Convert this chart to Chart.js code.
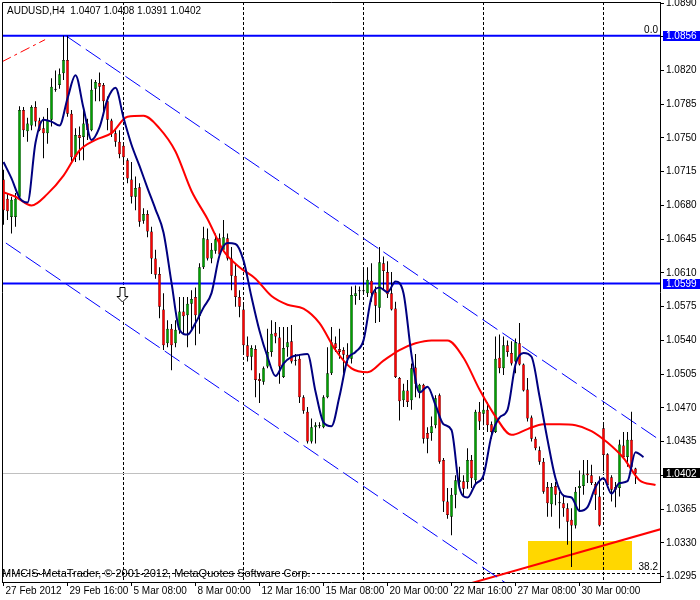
<!DOCTYPE html>
<html>
<head>
<meta charset="utf-8">
<title>AUDUSD,H4</title>
<script src="https://cdn.jsdelivr.net/npm/chart.js@4.4.1/dist/chart.umd.min.js"></script>
<style>
html,body{margin:0;padding:0;background:#ffffff;overflow:hidden;}
#box{position:relative;width:700px;height:600px;}
canvas{display:block;}
</style>
</head>
<body>
<div id="box"><canvas id="chart" width="700" height="600"></canvas></div>
<script>
// ---------------- data ----------------
const chartTitle = 'AUDUSD,H4  1.0407 1.0408 1.0391 1.0402';
const footerText = 'MMCIS-MetaTrader, \u00A9 2001-2012, MetaQuotes Software Corp.';

// H4 candles, bar 0 = 27 Feb 2012 00:00
const opens = [
1.0707,1.0687,1.0668,1.0668,1.0689,1.0779,1.0757,1.0763,1.0782,1.0768,
1.0760,1.0755,1.0769,1.0800,1.0805,1.0817,1.0831,1.0775,1.0730,1.0753,
1.0751,1.0765,1.0758,1.0801,1.0807,1.0805,1.0788,1.0768,1.0755,1.0746,
1.0742,1.0727,1.0707,1.0689,1.0699,1.0664,1.0671,1.0653,1.0625,1.0609,
1.0572,1.0537,1.0552,1.0537,1.0551,1.0570,1.0566,1.0578,1.0585,1.0565,
1.0616,1.0645,1.0625,1.0633,1.0646,1.0634,1.0646,1.0625,1.0607,1.0585,
1.0572,1.0535,1.0523,1.0531,1.0500,1.0497,1.0513,1.0528,1.0548,1.0543,
1.0502,1.0533,1.0539,1.0520,1.0521,1.0481,1.0466,1.0435,1.0450,1.0451,
1.0450,1.0481,1.0506,1.0537,1.0531,1.0530,1.0525,1.0521,1.0586,1.0591,
1.0591,1.0589,1.0602,1.0590,1.0574,1.0620,1.0611,1.0589,1.0573,1.0501,
1.0478,1.0488,1.0478,1.0512,1.0486,1.0494,1.0444,1.0444,1.0452,1.0483,
1.0416,1.0373,1.0357,1.0380,1.0393,1.0394,1.0393,1.0416,1.0395,1.0466,
1.0464,1.0468,1.0453,1.0445,1.0522,1.0511,1.0535,1.0527,1.0518,1.0537,
1.0515,1.0489,1.0460,1.0438,1.0426,1.0414,1.0388,1.0370,1.0389,1.0372,
1.0371,1.0366,1.0354,1.0348,1.0387,1.0389,1.0402,1.0400,1.0391,1.0378,
1.0449,1.0422,1.0398,1.0388,1.0387,1.0431,1.0419,1.0437,1.0407];
const highs = [
1.0717,1.0693,1.0689,1.0693,1.0783,1.0782,1.0771,1.0784,1.0788,1.0771,
1.0772,1.0781,1.0812,1.0820,1.0822,1.0856,1.0856,1.0779,1.0760,1.0762,
1.0782,1.0770,1.0811,1.0810,1.0818,1.0807,1.0793,1.0770,1.0760,1.0758,
1.0744,1.0729,1.0725,1.0710,1.0703,1.0677,1.0675,1.0658,1.0634,1.0616,
1.0589,1.0561,1.0557,1.0561,1.0585,1.0585,1.0585,1.0592,1.0595,1.0620,
1.0658,1.0656,1.0641,1.0651,1.0651,1.0665,1.0651,1.0637,1.0620,1.0592,
1.0578,1.0544,1.0535,1.0535,1.0506,1.0513,1.0552,1.0561,1.0559,1.0554,
1.0554,1.0554,1.0556,1.0526,1.0526,1.0483,1.0471,1.0459,1.0455,1.0455,
1.0483,1.0533,1.0554,1.0544,1.0552,1.0533,1.0537,1.0596,1.0597,1.0596,
1.0616,1.0616,1.0620,1.0596,1.0637,1.0627,1.0622,1.0611,1.0580,1.0502,
1.0495,1.0499,1.0516,1.0526,1.0495,1.0495,1.0450,1.0461,1.0483,1.0485,
1.0418,1.0387,1.0387,1.0400,1.0409,1.0400,1.0428,1.0421,1.0468,1.0476,
1.0483,1.0476,1.0456,1.0544,1.0546,1.0544,1.0540,1.0539,1.0542,1.0558,
1.0516,1.0501,1.0462,1.0440,1.0430,1.0418,1.0393,1.0392,1.0393,1.0383,
1.0380,1.0371,1.0366,1.0388,1.0405,1.0416,1.0416,1.0411,1.0393,1.0399,
1.0454,1.0423,1.0400,1.0393,1.0437,1.0445,1.0445,1.0466,1.0408];
const lows = [
1.0660,1.0665,1.0651,1.0658,1.0686,1.0751,1.0746,1.0758,1.0762,1.0757,
1.0729,1.0744,1.0762,1.0798,1.0801,1.0810,1.0772,1.0725,1.0725,1.0727,
1.0727,1.0748,1.0757,1.0788,1.0788,1.0774,1.0758,1.0751,1.0741,1.0729,
1.0722,1.0703,1.0682,1.0675,1.0658,1.0661,1.0647,1.0609,1.0604,1.0563,
1.0530,1.0533,1.0509,1.0533,1.0547,1.0547,1.0533,1.0551,1.0535,1.0547,
1.0614,1.0623,1.0620,1.0630,1.0627,1.0632,1.0623,1.0592,1.0575,1.0564,
1.0526,1.0518,1.0509,1.0481,1.0475,1.0494,1.0511,1.0523,1.0537,1.0495,
1.0501,1.0523,1.0516,1.0514,1.0475,1.0464,1.0433,1.0433,1.0433,1.0449,
1.0449,1.0480,1.0504,1.0528,1.0521,1.0506,1.0516,1.0516,1.0577,1.0582,
1.0589,1.0585,1.0580,1.0558,1.0559,1.0592,1.0584,1.0571,1.0501,1.0457,
1.0471,1.0471,1.0468,1.0481,1.0480,1.0433,1.0423,1.0436,1.0449,1.0412,
1.0362,1.0355,1.0338,1.0366,1.0385,1.0378,1.0386,1.0387,1.0392,1.0447,
1.0452,1.0445,1.0438,1.0444,1.0506,1.0504,1.0523,1.0514,1.0506,1.0514,
1.0487,1.0456,1.0435,1.0426,1.0411,1.0381,1.0357,1.0357,1.0369,1.0345,
1.0357,1.0328,1.0305,1.0345,1.0362,1.0380,1.0392,1.0390,1.0364,1.0347,
1.0404,1.0387,1.0373,1.0367,1.0378,1.0418,1.0409,1.0405,1.0391];
const closes = [
1.0675,1.0674,1.0686,1.0687,1.0779,1.0758,1.0765,1.0782,1.0767,1.0758,
1.0755,1.0768,1.0803,1.0801,1.0816,1.0831,1.0775,1.0730,1.0753,1.0750,
1.0765,1.0758,1.0800,1.0808,1.0803,1.0788,1.0769,1.0755,1.0746,1.0733,
1.0730,1.0708,1.0689,1.0698,1.0663,1.0671,1.0653,1.0625,1.0608,1.0575,
1.0535,1.0552,1.0535,1.0551,1.0570,1.0565,1.0578,1.0583,1.0566,1.0616,
1.0646,1.0625,1.0634,1.0645,1.0629,1.0647,1.0625,1.0607,1.0585,1.0575,
1.0535,1.0523,1.0532,1.0499,1.0498,1.0511,1.0528,1.0547,1.0544,1.0513,
1.0532,1.0538,1.0518,1.0519,1.0481,1.0467,1.0435,1.0450,1.0452,1.0451,
1.0481,1.0506,1.0538,1.0532,1.0528,1.0525,1.0521,1.0587,1.0589,1.0591,
1.0591,1.0603,1.0589,1.0576,1.0621,1.0612,1.0588,1.0572,1.0502,1.0477,
1.0488,1.0476,1.0511,1.0495,1.0494,1.0438,1.0438,1.0451,1.0480,1.0414,
1.0373,1.0359,1.0380,1.0395,1.0395,1.0386,1.0416,1.0397,1.0466,1.0456,
1.0468,1.0452,1.0445,1.0521,1.0511,1.0535,1.0528,1.0516,1.0538,1.0515,
1.0488,1.0459,1.0438,1.0428,1.0414,1.0383,1.0371,1.0388,1.0380,1.0371,
1.0366,1.0352,1.0348,1.0383,1.0389,1.0401,1.0400,1.0392,1.0380,1.0348,
1.0421,1.0390,1.0385,1.0385,1.0432,1.0419,1.0437,1.0409,1.0402];

// shifted moving averages
const maFastBars = Array.from({length: 81}, (_, k) => k * 2);          // bars 0,2,...,160
const maFast = [
1.0725,1.0708,1.0688,1.0683,1.0745,1.0769,1.0767,1.0763,1.0791,1.0815,
1.0781,1.0748,1.0761,1.0790,1.0802,1.0771,1.0743,1.0721,1.0698,1.0676,
1.0652,1.0600,1.0551,1.0546,1.0558,1.0574,1.0589,1.0628,1.0641,1.0640,
1.0623,1.0585,1.0550,1.0523,1.0503,1.0516,1.0523,1.0525,1.0526,1.0487,
1.0455,1.0451,1.0482,1.0520,1.0528,1.0540,1.0585,1.0595,1.0590,1.0601,
1.0589,1.0525,1.0486,1.0492,1.0473,1.0453,1.0447,1.0387,1.0377,1.0391,
1.0400,1.0441,1.0460,1.0468,1.0515,1.0527,1.0523,1.0482,1.0437,1.0397,
1.0379,1.0377,1.0363,1.0367,1.0388,1.0397,1.0381,1.0392,1.0394,1.0424,
1.0419];
const maSlowBars = Array.from({length: 42}, (_, k) => -1 + k * 4);     // bars -1,3,...,163
const maSlow = [
1.0695,1.0689,1.0680,1.0692,1.0711,1.0737,1.0748,1.0755,1.0772,1.0773,
1.0760,1.0736,1.0695,1.0666,1.0633,1.0616,1.0604,1.0586,1.0577,1.0573,
1.0558,1.0530,1.0511,1.0507,1.0519,1.0530,1.0537,1.0540,1.0540,1.0522,
1.0489,1.0461,1.0442,1.0448,1.0453,1.0453,1.0452,1.0446,1.0434,1.0418,
1.0395,1.0390];

// axes
const xTickBars = [0, 16, 32, 48, 64, 80, 96, 112, 128, 144];
const xTickLabels = ['27 Feb 2012','29 Feb 16:00','5 Mar 08:00','8 Mar 00:00','12 Mar 16:00',
                     '15 Mar 08:00','20 Mar 00:00','22 Mar 16:00','27 Mar 08:00','30 Mar 00:00'];
const yTickValues = [1.0295,1.0330,1.0365,1.0400,1.0435,1.0470,1.0505,1.0540,1.0575,
                     1.0610,1.0645,1.0680,1.0715,1.0750,1.0785,1.0820,1.0855,1.0890];

// drawn objects
const hLevels = [1.0856, 1.0599];
const lastPrice = 1.0402;
const weekStartBars = [30, 60, 90, 120, 150];
const channelUpperBars = [15.6, 165];   const channelUpperPrices = [1.0856, 1.0434];
const channelLowerBars = [0.6, 165];    const channelLowerPrices = [1.0641, 1.0177];
const supportBars = [110, 165];         const supportPrices = [1.0280, 1.0345];
const oldTrendBars = [-0.4, 10.4];      const oldTrendPrices = [1.0829, 1.0852];
const fibLabels = ['0.0', '38.2'];      const fibPrices = [1.0856, 1.0298];
const zoneBars = [131, 157];            const zonePrices = [1.0332, 1.0302];
const arrowBar = 30;                    const arrowPrice = 1.0595;

// ---------------- drawing ----------------
const AXIS_FONT = "'Liberation Sans', Arial, sans-serif";
const TEXT_FONT = "'Liberation Sans', Arial, sans-serif";
const BULL = '#00A000', BEAR = '#FF0000';
const X_MIN = -0.375, X_MAX = 164.125;
const Y_MIN = 1.028938, Y_MAX = 1.089104;

const barIdx = opens.map((_, i) => i);
const pts = (bs, ps) => bs.map((b, k) => ({x: b, y: ps[k]}));

function lineDs(label, data, color, width, dash, order, extra) {
  return Object.assign({
    type: 'line', label, data, order,
    borderColor: color, borderWidth: width, borderDash: dash || [],
    pointRadius: 0, fill: false, tension: 0, spanGaps: true
  }, extra || {});
}

const datasets = [
  lineDs('MA fast', pts(maFastBars, maFast), '#000080', 2, null, 1, {cubicInterpolationMode: 'monotone'}),
  lineDs('MA slow', pts(maSlowBars, maSlow), '#FF0000', 2, null, 2, {cubicInterpolationMode: 'monotone'}),
  {
    type: 'bar', label: 'body', order: 3,
    data: barIdx.map(i => ({x: i, y: [opens[i], closes[i]]})),
    backgroundColor: ctx => {
      const i = ctx.dataIndex;
      return closes[i] >= opens[i] ? BULL : BEAR;
    },
    borderColor: '#000000', borderWidth: 0.5, borderSkipped: false,
    barThickness: 3, maxBarThickness: 3, grouped: false, inflateAmount: 0, minBarLength: 1
  },
  {
    type: 'bar', label: 'range', order: 4,
    data: barIdx.map(i => ({x: i, y: [lows[i], highs[i]]})),
    backgroundColor: '#000000', borderWidth: 0,
    barThickness: 1, maxBarThickness: 1, grouped: false, inflateAmount: 0
  },
  ...hLevels.map((p, k) => lineDs('level ' + k, [{x: X_MIN, y: p}, {x: X_MAX, y: p}], '#0000FF', 2, null, 5)),
  lineDs('channel upper', pts(channelUpperBars, channelUpperPrices), '#0000FF', 1, [18, 6], 6),
  lineDs('channel lower', pts(channelLowerBars, channelLowerPrices), '#0000FF', 1, [18, 6], 6),
  lineDs('support', pts(supportBars, supportPrices), '#FF0000', 2, null, 6),
  lineDs('old trend', pts(oldTrendBars, oldTrendPrices), '#FF0000', 1, [10, 4, 3, 4], 6)
];

const decor = {
  id: 'decor',
  beforeDraw(chart) {
    const ctx = chart.ctx;
    ctx.save();
    ctx.fillStyle = '#ffffff';
    ctx.fillRect(0, 0, chart.width, chart.height);
    ctx.restore();
  },
  beforeDatasetsDraw(chart) {
    const {ctx, chartArea: a, scales: {x, y}} = chart;
    ctx.save();
    ctx.beginPath();
    ctx.rect(a.left, a.top, a.right - a.left, a.bottom - a.top);
    ctx.clip();
    // zone rectangle
    const zx1 = x.getPixelForValue(zoneBars[0]), zx2 = x.getPixelForValue(zoneBars[1]);
    const zy1 = y.getPixelForValue(zonePrices[0]), zy2 = y.getPixelForValue(zonePrices[1]);
    ctx.fillStyle = '#FFD700';
    ctx.fillRect(Math.round(zx1), Math.round(zy1), Math.round(zx2 - zx1), Math.round(zy2 - zy1));
    // weekly separators
    ctx.strokeStyle = '#000000';
    ctx.lineWidth = 1;
    ctx.setLineDash([3, 2]);
    weekStartBars.forEach(b => {
      const px = Math.floor(x.getPixelForValue(b)) + 0.5;
      ctx.beginPath(); ctx.moveTo(px, a.top); ctx.lineTo(px, a.bottom); ctx.stroke();
    });
    // fibo 38.2 level
    const fy = Math.floor(y.getPixelForValue(fibPrices[1])) + 0.5;
    ctx.beginPath(); ctx.moveTo(a.left, fy); ctx.lineTo(a.right, fy); ctx.stroke();
    // last price line
    ctx.setLineDash([]);
    ctx.strokeStyle = '#C0C0C0';
    const ly = Math.floor(y.getPixelForValue(lastPrice)) + 0.5;
    ctx.beginPath(); ctx.moveTo(a.left, ly); ctx.lineTo(a.right, ly); ctx.stroke();
    ctx.restore();
  },
  afterDraw(chart) {
    const {ctx, chartArea: a, scales: {x, y}} = chart;
    ctx.save();
    // frame top/left
    ctx.strokeStyle = '#000000';
    ctx.lineWidth = 1;
    ctx.beginPath();
    ctx.moveTo(a.left + 0.5, a.bottom); ctx.lineTo(a.left + 0.5, a.top + 0.5); ctx.lineTo(a.right, a.top + 0.5);
    ctx.stroke();
    // arrow marker
    const ax = x.getPixelForValue(arrowBar) - 1, ay = Math.round(y.getPixelForValue(arrowPrice)) + 0.5;
    ctx.beginPath();
    ctx.moveTo(ax - 2.5, ay); ctx.lineTo(ax + 2.5, ay); ctx.lineTo(ax + 2.5, ay + 9);
    ctx.lineTo(ax + 5.5, ay + 9); ctx.lineTo(ax, ay + 14.5); ctx.lineTo(ax - 5.5, ay + 9);
    ctx.lineTo(ax - 2.5, ay + 9); ctx.closePath();
    ctx.fillStyle = '#ffffff'; ctx.fill(); ctx.stroke();
    // title
    ctx.fillStyle = '#000000';
    ctx.textBaseline = 'middle';
    ctx.textAlign = 'left';
    ctx.font = '10px ' + AXIS_FONT;
    ctx.fillText(chartTitle, 7, 11);
    // footer
    ctx.font = '11px ' + TEXT_FONT;
    ctx.fillText(footerText, 2, 574);
    // fibo labels
    ctx.font = '10px ' + AXIS_FONT;
    ctx.textAlign = 'right';
    ctx.textBaseline = 'bottom';
    fibPrices.forEach((p, k) => {
      ctx.fillText(fibLabels[k], a.right - 2, y.getPixelForValue(p) - 1);
    });
    // price tags on the axis
    ctx.textAlign = 'left';
    ctx.textBaseline = 'middle';
    const tag = (p, bg) => {
      const py = y.getPixelForValue(p);
      ctx.fillStyle = bg;
      ctx.fillRect(a.right + 3, Math.round(py) - 5, chart.width - a.right - 3, 10);
      ctx.fillStyle = '#ffffff';
      ctx.fillText(p.toFixed(4), a.right + 6, py + 0.5);
    };
    hLevels.forEach(p => tag(p, '#0000FF'));
    tag(lastPrice, '#000000');
    ctx.restore();
  }
};

new Chart(document.getElementById('chart'), {
  type: 'bar',
  data: { datasets },
  options: {
    responsive: false,
    animation: false,
    events: [],
    layout: { padding: { left: 2, top: 2, right: 0, bottom: 0 }, autoPadding: false },
    plugins: { legend: { display: false }, tooltip: { enabled: false }, title: { display: false } },
    scales: {
      x: {
        type: 'linear', position: 'bottom', min: X_MIN, max: X_MAX, offset: false,
        grid: { display: true, offset: false, drawOnChartArea: false, drawTicks: true, tickLength: 4, color: '#000000', lineWidth: 1 },
        border: { display: true, color: '#000000', width: 1 },
        ticks: {
          autoSkip: false, maxRotation: 0, minRotation: 0, align: 'start', labelOffset: 2, padding: 0,
          color: '#000000', font: { family: AXIS_FONT, size: 10, lineHeight: 1.1 },
          callback: (v, i) => xTickLabels[i]
        },
        afterBuildTicks: s => { s.ticks = xTickBars.map(v => ({ value: v })); },
        afterFit: s => { s.height = 18; s.paddingLeft = 0; s.paddingRight = 0; }
      },
      y: {
        type: 'linear', position: 'right', min: Y_MIN, max: Y_MAX, beginAtZero: false,
        grid: { display: true, drawOnChartArea: false, drawTicks: true, tickLength: 4, color: '#000000', lineWidth: 1 },
        border: { display: true, color: '#000000', width: 1 },
        ticks: {
          autoSkip: false, padding: 2, color: '#000000', crossAlign: 'near',
          font: { family: AXIS_FONT, size: 10, lineHeight: 1 },
          callback: v => Number(v).toFixed(4)
        },
        afterBuildTicks: s => { s.ticks = yTickValues.map(v => ({ value: v })); },
        afterFit: s => { s.width = 40; s.paddingTop = 0; s.paddingBottom = 0; }
      }
    }
  },
  plugins: [decor]
});
</script>
</body>
</html>
